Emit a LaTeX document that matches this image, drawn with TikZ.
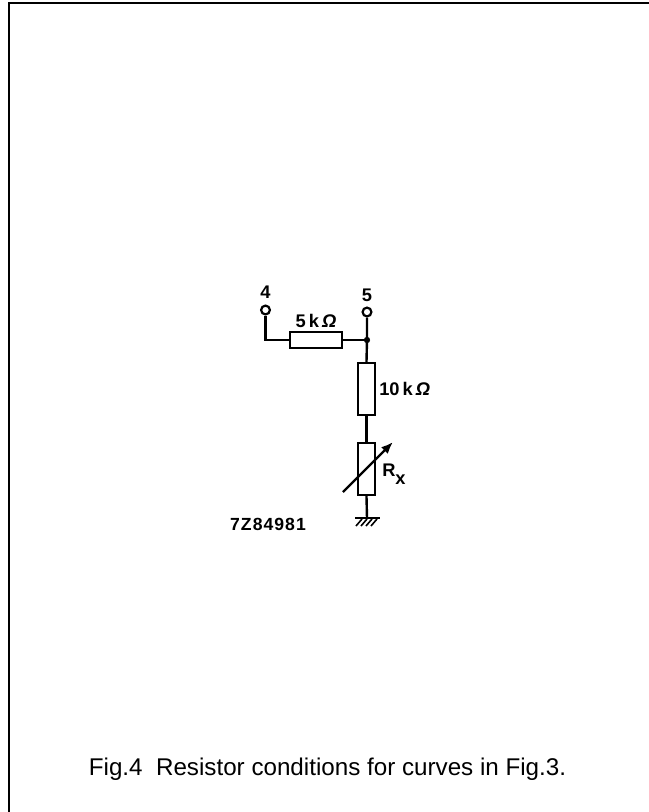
\documentclass[tikz,border=0pt]{standalone}
\usepackage{fontspec}
\setmainfont{Liberation Sans}
\usetikzlibrary{arrows.meta}
\tikzset{
    wire/.style={line width=0.06cm},
    resbox/.style={draw, line width=0.06cm, rectangle, fill=white, inner sep=0pt},
    hbox/.style={resbox, minimum width=1.3cm, minimum height=0.4cm},
    vbox/.style={resbox, minimum width=0.43cm, minimum height=1.3cm},
    terminal/.style={draw, circle, line width=0.055cm, fill=white, inner sep=0pt, minimum size=0.22cm},
    lbl/.style={font=\fontsize{13}{15}\selectfont\bfseries, inner sep=0pt}
}
\begin{document}
\begin{tikzpicture}[x=0.025cm, y=-0.025cm]
    \useasboundingbox (0,0) rectangle (649,812);
    \draw[line width=0.05cm] (9,812) -- (9,3) -- (649,3);
    % terminals and resistors
    \node[terminal] (t4) at (265.5,310) {};
    \node[terminal] (t5) at (367,312) {};
    \node[hbox] (r5k) at (316,340) {};
    \node[vbox] (r10k) at (366.5,389) {};
    \node[vbox] (rx) at (366.5,469) {};
    \coordinate (j) at (367,340);
    \coordinate (gnd) at (367,518);
    \draw[wire] (t4.south) |- (r5k.west);
    \draw[wire] (r5k.east) -- (j);
    \draw[wire] (t5.south) -- (j) -- (r10k.north);
    \draw[wire] (r10k.south) -- (rx.north);
    \draw[wire] (rx.south) -- (gnd);
    \filldraw (j) circle (2.8);
    \draw[wire, -{Latex[length=0.3cm,width=0.24cm]}] (343,492) -- (393,442);
    % ground
    \draw[wire] (355,518) -- (380,518);
    \foreach \h in {356,361,366,371}
        \draw[line width=0.04cm] (\h,526) -- (\h+6,519);
    % labels
    \node[lbl] (l4) at (265.5,292) {4};
    \node[lbl] (l5) at (367,295) {5};
    \node[lbl] (l5k) at (316,321) {5\,k\,\textit{Ω}};
    \node[lbl, anchor=west] (l10k) at (379,389) {10\,k\,\textit{Ω}};
    \node[lbl, anchor=west] (lrx) at (382,474) {R\raisebox{-0.8ex}{x}};
    \node[lbl, font=\fontsize{12.5}{14}\selectfont\bfseries\addfontfeature{LetterSpace=6}] (code) at (268,524) {7Z84981};
    \node[anchor=base, inner sep=0pt, font=\fontsize{17.2}{20}\selectfont] (cap) at (327.5,775)
        {Fig.4\ \ Resistor conditions for curves in Fig.3.};
\end{tikzpicture}
\end{document}
